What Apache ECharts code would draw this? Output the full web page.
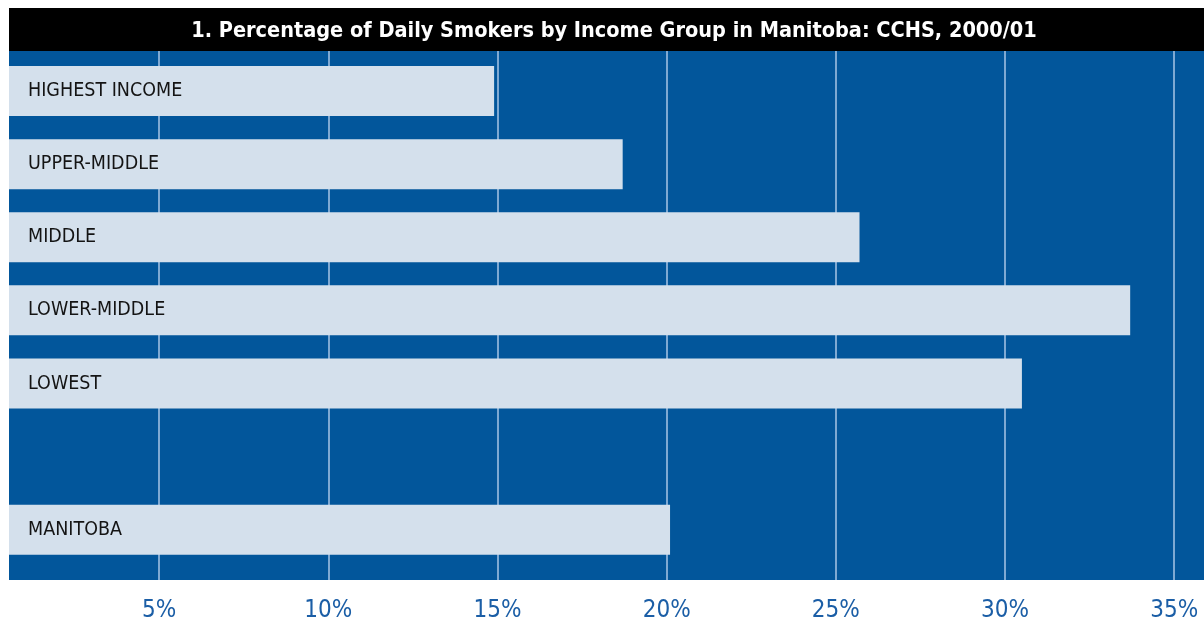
<!DOCTYPE html>
<html>
<head>
<meta charset="utf-8">
<script src="https://cdn.jsdelivr.net/npm/echarts@6/dist/echarts.min.js"></script>
<style>
  html, body { margin: 0; padding: 0; background: #fff; }
  #main { width: 1204px; height: 625px; }
</style>
</head>
<body>
<div id="main"></div>
<script>
var titleText = '1. Percentage of Daily Smokers by Income Group in Manitoba: CCHS, 2000/01';
var categories = ['HIGHEST INCOME', 'UPPER-MIDDLE', 'MIDDLE', 'LOWER-MIDDLE', 'LOWEST', '', 'MANITOBA'];
var smokers = [14.9, 18.7, 25.7, 33.7, 30.5, '-', 20.1];
var tickValues = [5, 10, 15, 20, 25, 30, 35];

var myChart = echarts.init(document.getElementById('main'));
var font = '"DejaVu Sans Condensed", "Liberation Sans", sans-serif';

var option = {
  animation: false,
  title: {
    text: titleText,
    left: 609,
    top: 15,
    textAlign: 'center',
    textStyle: {
      color: '#fff',
      fontFamily: font,
      fontWeight: 'bold',
      fontSize: 21.5
    }
  },
  graphic: [
    // black title band
    { type: 'rect', shape: { x: 9, y: 8, width: 1195, height: 43 }, style: { fill: '#000' }, z: 0 },
    // white strip on the far left
    { type: 'rect', shape: { x: 0, y: 40, width: 9, height: 585 }, style: { fill: '#fff' }, z: 100 }
  ],
  grid: [
    // blue panel with the gridlines and % labels
    { left: -10, right: -4, top: 51, bottom: 45, outerBoundsMode: 'none',
      show: true, backgroundColor: '#02569b', borderWidth: 0 },
    // the bars
    { left: -10, right: -4, top: 54.5, bottom: 58.8, outerBoundsMode: 'none' }
  ],
  xAxis: [
    {
      gridIndex: 0,
      type: 'value',
      min: 0,
      max: 36,
      interval: 5,
      axisLine: { show: false },
      axisTick: { show: false },
      splitLine: { show: true, lineStyle: { color: '#a9c6e6', width: 1.5 } },
      axisLabel: {
        margin: 19,
        color: '#1b5ea6',
        fontFamily: font,
        fontSize: 24,
        formatter: function (v) {
          return tickValues.indexOf(v) >= 0 ? v + '%' : '';
        }
      }
    },
    { gridIndex: 1, type: 'value', min: 0, max: 36, show: false }
  ],
  yAxis: [
    { gridIndex: 0, type: 'value', show: false },
    {
      gridIndex: 1,
      type: 'category',
      data: categories,
      inverse: true,
      z: 10,
      axisLine: { show: false },
      axisTick: { show: false },
      axisLabel: {
        inside: true,
        margin: 38,
        color: '#141414',
        fontFamily: font,
        fontSize: 19.5
      }
    }
  ],
  series: [
    {
      type: 'bar',
      xAxisIndex: 1,
      yAxisIndex: 1,
      barWidth: 50,
      itemStyle: { color: '#d4e0ec' },
      data: smokers
    }
  ]
};

myChart.setOption(option);
window.addEventListener('resize', function () {
  myChart.resize();
});
</script>
</body>
</html>
